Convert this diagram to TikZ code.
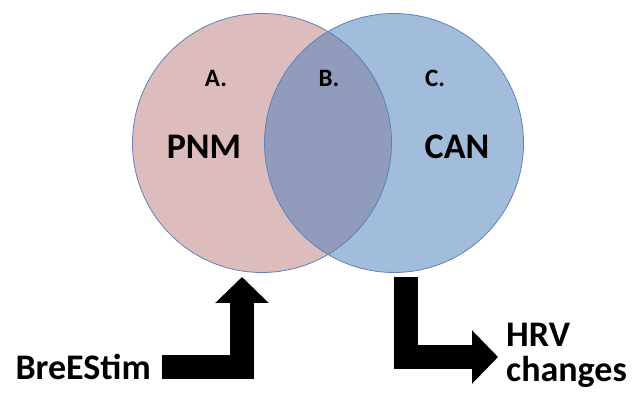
\documentclass[tikz,border=0pt]{standalone}
\usepackage{fontspec}
\setmainfont{Carlito}
\usetikzlibrary{arrows.meta}

\definecolor{pnmpink}{RGB}{220,188,188}
\definecolor{canblue}{RGB}{79,129,189}
\definecolor{rimblue}{RGB}{96,130,182}

\tikzset{
  venn/.style={circle,minimum size=259pt,inner sep=0pt,draw=rimblue,line width=0.8pt},
  tag/.style={font=\fontsize{25}{28}\selectfont\bfseries},
  big/.style={font=\fontsize{36}{35}\selectfont\bfseries},
  fat/.style={line width=24pt,line join=miter,-{Triangle[width=52pt,length=26pt]}}
}

\begin{document}
\begin{tikzpicture}[x=1pt,y=-1pt]
  \useasboundingbox (0,0) rectangle (633,398);
  % The two sets
  \node[venn,fill=pnmpink]                  (PNM) at (262,143) {};
  \node[venn,fill=canblue,fill opacity=0.53] (CAN) at (394,143) {};
  \node[tag]  (A)   at (216,78)  {A.};
  \node[tag]  (B)   at (329,78)  {B.};
  \node[tag]  (C)   at (435,78)  {C.};
  \node[big]  (pnm) at (204,147) {PNM};
  \node[big]  (can) at (457,147) {CAN};
  % Input and output arrows
  \node[big,anchor=east,inner xsep=11pt] (stim) at (162,367) {BreEStim};
  \node[big,anchor=base west,align=left,inner sep=0pt] (hrv) at (506,382) {HRV\\changes};
  \coordinate (pnmtip)  at (242,277);
  \coordinate (cantail) at (406,277);
  \coordinate (hrvtip)  at (498,357);
  \draw[fat] (stim.east) -| (pnmtip);
  \draw[fat] (cantail) |- (hrvtip);
\end{tikzpicture}
\end{document}
